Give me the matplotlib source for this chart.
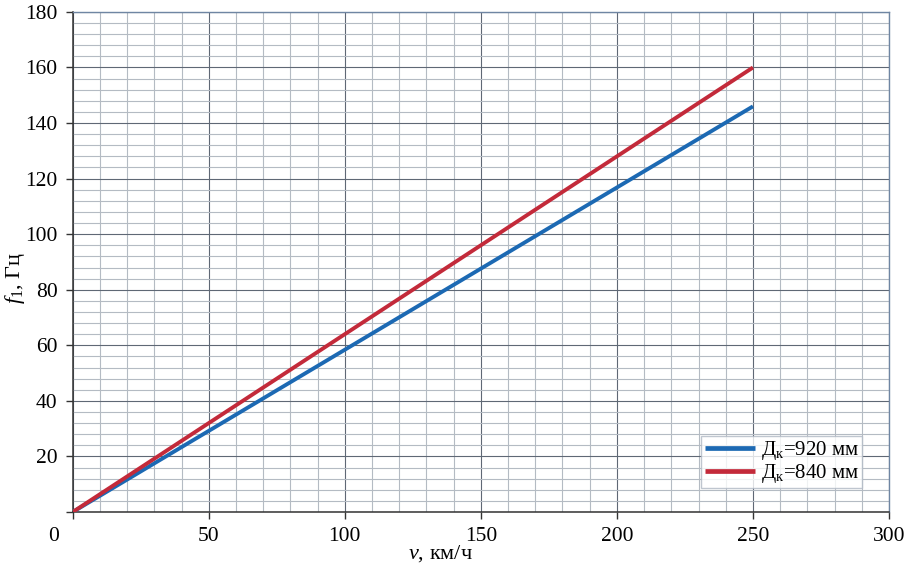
import matplotlib.pyplot as plt
import numpy as np
from matplotlib.ticker import MultipleLocator

# speed, km/h
speed = [0, 50, 100, 150, 200, 250]
# natural frequency f1, Hz, for two wheel diameters
freq_920 = [0, 29.2, 58.4, 87.6, 116.8, 146.0]
freq_840 = [0, 32.0, 64.0, 96.0, 128.0, 160.0]

plt.rcParams['font.family'] = ['Liberation Serif', 'DejaVu Serif']
plt.rcParams['mathtext.fontset'] = 'custom'
plt.rcParams['mathtext.rm'] = 'Liberation Serif'
plt.rcParams['mathtext.it'] = 'Liberation Serif:italic'

fig = plt.figure(figsize=(9.09, 5.67), dpi=100)
ax = fig.add_axes([0.080, 0.097, 0.898, 0.882])

ax.plot(speed, freq_920, color='#1c69b3', lw=2.8, label='Д$_\\mathregular{к}$=920 мм',
        solid_capstyle='butt', zorder=3)
ax.plot(speed, freq_840, color='#c32a3a', lw=2.8, label='Д$_\\mathregular{к}$=840 мм',
        solid_capstyle='butt', zorder=3)

ax.set_xlim(0, 300)
ax.set_ylim(0, 180)
ax.xaxis.set_minor_locator(MultipleLocator(10))
ax.yaxis.set_minor_locator(MultipleLocator(4))

ax.grid(which='major', color='#5f6875', lw=0.8)
ax.grid(which='minor', color='#b4bbc3', lw=0.8)
ax.set_axisbelow(True)

ax.tick_params(which='major', direction='out', length=5, width=1, color='#333333',
               labelsize=15.5, pad=6)
ax.tick_params(which='minor', length=0)

# zero is labelled once, below and left of the corner
xt = np.arange(0, 301, 50)
yt = np.arange(0, 181, 20)
ax.set_xticks(xt)
ax.set_xticklabels([''] + [str(v) for v in xt[1:]])
ax.set_yticks(yt)
ax.set_yticklabels([''] + [str(v) for v in yt[1:]])
ax.annotate('0', xy=(xt[0], yt[0]), xycoords='data', xytext=(-14, -11),
            textcoords='offset points', ha='center', va='top', fontsize=15.5)

for side in ['left', 'bottom']:
    ax.spines[side].set_color('#333333')
    ax.spines[side].set_linewidth(1.1)
for side in ['top', 'right']:
    ax.spines[side].set_color('#6f86a3')
    ax.spines[side].set_linewidth(1.0)

ax.set_xlabel('$v$, км/ч', fontsize=16, va='center')
ax.xaxis.set_label_coords(0.451, -0.084)
ax.set_ylabel('$f_1$, Гц', fontsize=16, va='center')
ax.yaxis.set_label_coords(-0.071, 0.468)

leg = ax.legend(loc='lower right', bbox_to_anchor=(0.967, 0.048), fontsize=15,
                frameon=True, fancybox=False, handlelength=2.4, handletextpad=0.3,
                borderpad=0.15, labelspacing=0.0, borderaxespad=0)
leg.get_frame().set_edgecolor('#b0b8c4')
leg.get_frame().set_linewidth(1.0)
for line in leg.get_lines():
    line.set_linewidth(3.4)

fig.savefig('out.png', dpi=100)
